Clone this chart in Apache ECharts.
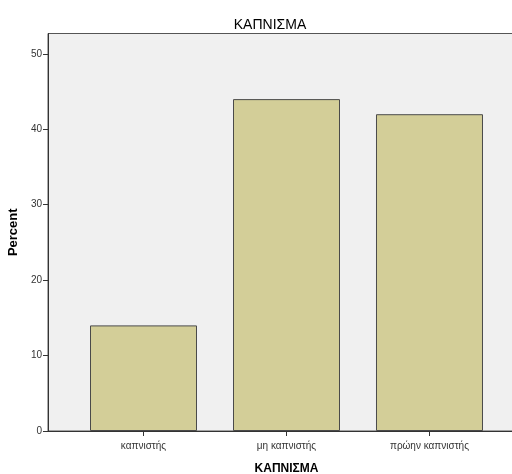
<!DOCTYPE html>
<html><head><meta charset="utf-8">
<script src="https://cdn.jsdelivr.net/npm/echarts@6/dist/echarts.min.js"></script>
<style>html,body{margin:0;padding:0;background:#fff}#c{width:512px;height:474px}</style>
</head><body><div id="c"></div>
<script>
var categories = ['καπνιστής', 'μη καπνιστής', 'πρώην καπνιστής'];
var percentValues = [14, 44, 42];
var yTicks = [0, 10, 20, 30, 40, 50];
var titleText = 'ΚΑΠΝΙΣΜΑ';
var xName = 'ΚΑΠΝΙΣΜΑ';
var yName = 'Percent';

var chart = echarts.init(document.getElementById('c'), null, {renderer: 'canvas'});
var catIdx = categories.map(function (c, i) { return i; });
chart.setOption({
  animation: false,
  backgroundColor: '#ffffff',
  title: {
    text: titleText, left: 265, top: 13, textAlign: 'center',
    textStyle: {fontFamily: 'Liberation Sans, Arial', fontSize: 14, fontWeight: 'normal', color: '#000'}
  },
  grid: {
    left: 48, top: 33.5, width: 477, height: 397.5,
    show: true, backgroundColor: '#f0f0f0', borderColor: '#555', borderWidth: 1,
    containLabel: false, outerBoundsMode: 'none'
  },
  xAxis: {
    type: 'value', min: -0.668, max: 2.668,
    name: xName, nameLocation: 'middle', nameGap: 32,
    nameTextStyle: {fontFamily: 'Liberation Sans, Arial', fontSize: 12, fontWeight: 'bold', color: '#000'},
    axisLine: {show: true, onZero: false, lineStyle: {color: '#333', width: 1}},
    axisTick: {show: true, length: 5, customValues: catIdx, lineStyle: {color: '#333'}},
    axisLabel: {
      customValues: catIdx, margin: 10,
      fontFamily: 'Liberation Sans, Arial', fontSize: 10, color: '#333',
      formatter: function (v) { return categories[Math.round(v)] || ''; }
    },
    splitLine: {show: false}
  },
  yAxis: {
    type: 'value', min: 0, max: 52.7,
    name: yName, nameLocation: 'middle', nameGap: 26, nameRotate: 90,
    nameTextStyle: {fontFamily: 'Liberation Sans, Arial', fontSize: 13, fontWeight: 'bold', color: '#000'},
    axisLine: {show: true, onZero: false, lineStyle: {color: '#333', width: 1}},
    axisTick: {show: true, length: 5, customValues: yTicks, lineStyle: {color: '#333'}},
    axisLabel: {customValues: yTicks, margin: 6, fontFamily: 'Liberation Sans, Arial', fontSize: 10, color: '#333'},
    splitLine: {show: false}
  },
  series: [{
    type: 'bar',
    data: percentValues.map(function (v, i) { return [i, v]; }),
    barWidth: 107,
    itemStyle: {color: '#d3ce98', borderColor: '#4a4a4a', borderWidth: 1}
  }]
});
</script>
</body></html>
